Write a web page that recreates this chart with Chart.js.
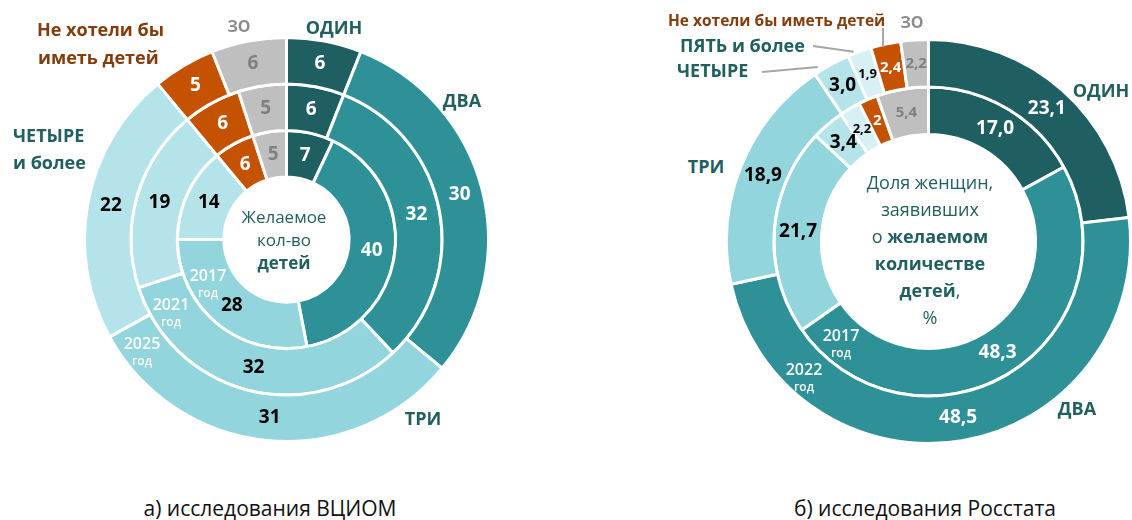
<!DOCTYPE html>
<html>
<head>
<meta charset="utf-8">
<script src="https://cdn.jsdelivr.net/npm/chart.js@4/dist/chart.umd.min.js"></script>
<style>
  html, body { margin: 0; padding: 0; background: #fff; }
  body { width: 1132px; height: 520px; position: relative; overflow: hidden; font-family: "Open Sans", sans-serif; }
  .box { position: absolute; width: 407px; height: 407px; }
  .t { position: absolute; white-space: nowrap; font-weight: bold; line-height: 1; transform: translate(-50%, -50%); }
  .l { transform: translate(0, -50%); }
  .teal { color: #22605f; font-size: 18px; }
  .brown { color: #843c0c; font-size: 18px; }
  .grey { color: #8c8c8c; font-size: 16px; }
  .yr { color: #fff; font-size: 16px; text-align: center; line-height: 21px; font-weight: 600; }
  .yr small { font-size: 12px; display: block; line-height: 14px; }
  .center { position: absolute; text-align: center; color: #22605f; transform: translateX(-50%); white-space: nowrap; }
  .cap { position: absolute; font-size: 21px; color: #111; transform: translate(-50%, -50%); white-space: nowrap; }
  .ln { position: absolute; height: 2px; background: #a6a6a6; transform-origin: 0 50%; }
</style>
</head>
<body>
<div class="box" style="left:83px; top:36px;"><canvas id="left"></canvas></div>
<div class="box" style="left:725px; top:38px;"><canvas id="right"></canvas></div>

<!-- left chart texts -->
<div class="t teal" style="left:334px; top:27px;">ОДИН</div>
<div class="t teal" style="left:462px; top:100px;">ДВА</div>
<div class="t teal" style="left:423px; top:418px;">ТРИ</div>
<div class="t teal l" style="left:13px; top:135px;">ЧЕТЫРЕ</div>
<div class="t teal l" style="left:13px; top:162px;">и более</div>
<div class="t brown l" style="left:37px; top:29px;">Не хотели бы</div>
<div class="t brown l" style="left:38px; top:57px;">иметь детей</div>
<div class="t grey" style="left:239px; top:26px;">ЗО</div>
<div class="t yr" style="left:208px; top:282px;">2017<small>год</small></div>
<div class="t yr" style="left:171px; top:311px;">2021<small>год</small></div>
<div class="t yr" style="left:142px; top:350px;">2025<small>год</small></div>
<div class="center" style="left:284px; top:205px; font-size:17px; line-height:23px;">Желаемое<br>кол-во<br><b>детей</b></div>

<!-- right chart texts -->
<div class="t teal" style="left:1101px; top:90px;">ОДИН</div>
<div class="t teal" style="left:1077px; top:408px;">ДВА</div>
<div class="t teal" style="left:706px; top:166px;">ТРИ</div>
<div class="t teal l" style="left:677px; top:70px;">ЧЕТЫРЕ</div>
<div class="t teal l" style="left:680px; top:45px;">ПЯТЬ и более</div>
<div class="t brown l" style="left:668px; top:21px; font-size:15.5px;">Не хотели бы иметь детей</div>
<div class="t grey" style="left:912px; top:22px;">ЗО</div>
<div class="ln" style="left:762px; top:71px; width:56px; transform:rotate(-5deg);"></div>
<div class="ln" style="left:813px; top:45px; width:41px; transform:rotate(8deg);"></div>
<div class="ln" style="left:883px; top:27px; width:19px; transform:rotate(90deg);"></div>
<div class="t yr" style="left:841px; top:342px;">2017<small>год</small></div>
<div class="t yr" style="left:804px; top:376px;">2022<small>год</small></div>
<div class="center" style="left:930px; top:169px; font-size:18px; line-height:27px;">Доля женщин,<br>заявивших<br>о <b>желаемом</b><br><b>количестве</b><br><b>детей</b>,<br>%</div>

<div class="cap" style="left:270px; top:508px;">а) исследования ВЦИОМ</div>
<div class="cap" style="left:925px; top:508px;">б) исследования Росстата</div>

<script>
// ВЦИОМ: ОДИН, ДВА, ТРИ, ЧЕТЫРЕ и более, Не хотели бы, ЗО
const vciomCats = ['ОДИН', 'ДВА', 'ТРИ', 'ЧЕТЫРЕ и более', 'Не хотели бы иметь детей', 'ЗО'];
const vciom2017 = [7, 40, 28, 14, 6, 5];
const vciom2021 = [6, 32, 32, 19, 6, 5];
const vciom2025 = [6, 30, 31, 22, 5, 6];

// Росстат: ОДИН, ДВА, ТРИ, ЧЕТЫРЕ, ПЯТЬ и более, Не хотели бы, ЗО
const rosCats = ['ОДИН', 'ДВА', 'ТРИ', 'ЧЕТЫРЕ', 'ПЯТЬ и более', 'Не хотели бы иметь детей', 'ЗО'];
const ros2017 = [17.0, 48.3, 21.7, 3.4, 2.2, 2, 5.4];
const ros2022 = [23.1, 48.5, 18.9, 3.0, 1.9, 2.4, 2.2];

const vciomColors = ['#1f5f62', '#2e9198', '#92d5dc', '#b4e4e9', '#c55200', '#bfbfbf'];
const vciomText = ['#fff', '#fff', '#000', '#000', '#fff', '#808080'];
const rosColors = ['#1f5f62', '#2e9198', '#92d5dc', '#b4e4e9', '#d7f0f3', '#c55200', '#bfbfbf'];
const rosText = ['#fff', '#fff', '#000', '#000', '#000', '#fff', '#808080'];
const rosSize = [19, 19, 19, 19, 13, 15, 15];

const valueLabels = {
  id: 'valueLabels',
  afterDatasetsDraw(chart, args, opts) {
    const ctx = chart.ctx;
    ctx.save();
    ctx.textAlign = 'center';
    ctx.textBaseline = 'middle';
    chart.data.datasets.forEach((ds, di) => {
      chart.getDatasetMeta(di).data.forEach((arc, i) => {
        const p = arc.tooltipPosition();
        ctx.fillStyle = opts.colors[i];
        ctx.font = 'bold ' + (opts.sizes ? opts.sizes[i] : 19) + 'px "Open Sans"';
        ctx.fillText(opts.format(ds.data[i]), p.x, p.y);
      });
    });
    ctx.restore();
  }
};

function ring(data, colors) {
  return { data: data, backgroundColor: colors, borderColor: '#fff', borderWidth: 3,
           hoverBorderWidth: 3, hoverOffset: 0, offset: 0 };
}

function makeChart(id, cats, sets, colors, cutout, labelOpts) {
  new Chart(document.getElementById(id), {
    type: 'doughnut',
    data: { labels: cats, datasets: sets.map(s => ring(s, colors)) },
    options: {
      responsive: true, maintainAspectRatio: false, animation: false,
      cutout: cutout,
      layout: { padding: 0 },
      events: [],
      plugins: { legend: { display: false }, tooltip: { enabled: false }, valueLabels: labelOpts }
    },
    plugins: [valueLabels]
  });
}

makeChart('left', vciomCats, [vciom2025, vciom2021, vciom2017], vciomColors, '31%',
  { colors: vciomText, format: v => String(v) });
makeChart('right', rosCats, [ros2022, ros2017], rosColors, '53%',
  { colors: rosText, sizes: rosSize, format: v => v === 2 ? '2' : v.toFixed(1).replace('.', ',') });
</script>
</body>
</html>
